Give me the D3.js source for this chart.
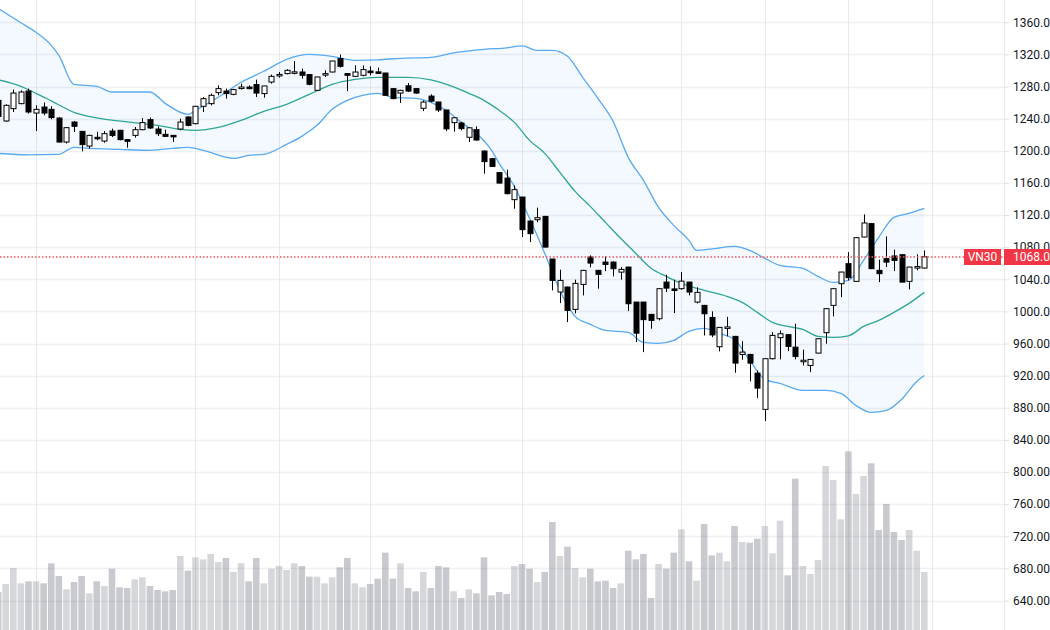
<!DOCTYPE html>
<html>
<head>
<meta charset="utf-8">
<script src="https://cdn.jsdelivr.net/npm/d3@7"></script>
<style>
  body { margin: 0; background: #fff; }
  svg { display: block; }
  text { font-family: Roboto, "DejaVu Sans", sans-serif; }
</style>
</head>
<body>
<div id="chart"></div>
<script>
// VN30 daily candles, oldest first (first one is cut by the left edge)
const opens = [1262.8,1237.1,1252.5,1258.7,1274.4,1247.0,1254.5,1251.6,1240.8,1210.9,
  1235.8,1224.2,1205.9,1216.8,1212.1,1224.6,1225.5,1213.9,1219.2,1226.3,
  1238.8,1227.1,1220.5,1219.2,1227.1,1242.1,1233.8,1255.4,1258.7,1272.4,
  1274.4,1270.3,1278.8,1279.4,1282.5,1271.2,1285.6,1294.5,1296.1,1297.7,
  1298.1,1294.9,1275.3,1294.9,1298.1,1314.8,1296.1,1292.7,1294.0,1299.3,
  1298.3,1296.8,1277.4,1271.9,1280.9,1277.4,1252.9,1268.1,1260.7,1250.8,
  1235.1,1234.6,1216.8,1226.3,1199.7,1190.2,1172.8,1166.0,1139.1,1142.4,
  1112.5,1114.2,1118.3,1065.2,1024.1,1030.3,1002.5,1033.6,1067.7,1051.1,
  1061.4,1061.4,1048.9,1055.2,1011.6,1011.6,996.3,990.9,1036.5,1028.0,
  1028.3,1036.5,1011.6,1007.5,992.5,956.0,980.1,968.9,946.4,946.4,
  923.1,878.0,941.1,967.3,971.0,955.5,938.7,932.7,948.1,973.5,
  1007.5,1034.5,1059.4,1037.4,1092.6,1109.3,1051.1,1065.7,1069.0,1070.6,
  1037.4,1054.8,1054.0];
const highs = [1267.8,1257.9,1276.2,1275.3,1277.4,1256.6,1260.0,1255.4,1241.7,1229.2,
  1237.1,1224.2,1219.9,1223.6,1224.6,1227.6,1226.1,1214.3,1229.6,1240.8,
  1241.3,1230.4,1226.3,1219.2,1240.0,1242.9,1256.0,1266.9,1271.2,1281.5,
  1277.4,1277.2,1283.6,1281.5,1288.6,1280.9,1294.9,1298.1,1301.5,1311.8,
  1302.3,1295.2,1292.1,1300.2,1312.0,1319.8,1296.5,1306.4,1306.4,1305.2,
  1303.6,1297.1,1277.8,1275.9,1284.4,1277.8,1262.8,1270.3,1261.0,1251.0,
  1242.1,1236.1,1229.2,1230.4,1200.6,1191.2,1173.1,1176.5,1157.0,1142.6,
  1113.3,1129.2,1119.0,1065.4,1051.9,1030.8,1039.5,1051.7,1069.8,1051.7,
  1068.5,1062.3,1055.2,1055.4,1011.8,1011.8,996.9,1028.6,1045.7,1039.5,
  1049.0,1036.8,1029.9,1008.1,1000.0,980.3,993.2,969.5,963.0,947.1,
  926.5,941.5,974.2,976.3,971.4,984.7,952.3,940.5,966.4,1003.8,
  1028.6,1049.2,1073.9,1092.2,1120.8,1109.6,1064.4,1093.4,1076.9,1071.0,
  1055.4,1071.0,1076.0];
const lows = [1235.4,1236.1,1248.3,1257.9,1246.3,1224.6,1244.2,1239.2,1210.5,1209.1,
  1223.4,1199.3,1202.7,1213.0,1210.1,1217.1,1213.0,1203.9,1216.4,1225.5,
  1227.1,1218.4,1217.1,1210.9,1225.5,1230.5,1232.9,1248.3,1256.6,1269.1,
  1265.0,1269.1,1276.2,1276.5,1267.0,1266.2,1283.6,1291.1,1295.2,1295.2,
  1289.9,1281.5,1274.7,1291.9,1297.7,1303.6,1274.4,1291.9,1292.7,1294.0,
  1296.1,1268.4,1264.1,1259.5,1273.2,1270.9,1249.5,1260.3,1248.3,1224.6,
  1223.8,1225.5,1210.9,1212.6,1171.5,1180.0,1159.4,1145.7,1127.9,1092.6,
  1086.3,1111.2,1079.7,1026.2,1010.3,986.7,997.5,1019.9,1054.8,1028.3,
  1050.2,1043.6,1039.5,1000.4,961.8,949.3,978.4,988.8,1024.1,997.9,
  1027.0,1019.9,1009.9,970.1,968.0,950.2,968.9,923.6,939.8,912.8,
  892.0,863.4,940.2,940.2,950.5,940.2,932.7,924.4,947.7,959.8,
  993.8,1017.8,1038.6,1036.8,1092.2,1052.7,1036.5,1055.2,1050.2,1036.1,
  1027.4,1051.1,1053.2];
const closes = [1242.9,1256.6,1271.9,1273.2,1248.3,1251.6,1247.0,1241.3,1210.9,1228.8,
  1230.5,1207.7,1219.2,1216.0,1221.3,1219.2,1213.9,1211.8,1226.3,1235.1,
  1228.4,1221.3,1218.0,1217.7,1235.8,1231.7,1255.4,1264.9,1269.1,1277.4,
  1271.2,1276.2,1279.4,1277.4,1271.9,1280.7,1292.7,1295.1,1300.2,1298.3,
  1294.0,1282.8,1291.9,1296.1,1311.8,1305.2,1294.0,1298.1,1301.1,1297.3,
  1297.7,1269.1,1265.0,1275.3,1274.4,1271.9,1260.7,1261.8,1250.8,1227.3,
  1241.1,1227.6,1228.6,1213.4,1186.5,1180.6,1159.8,1146.6,1151.6,1101.8,
  1096.8,1116.7,1080.1,1038.6,1038.6,1001.3,1034.9,1051.1,1060.2,1046.1,
  1058.5,1053.2,1052.3,1009.6,972.9,989.7,988.8,1028.3,1029.0,1026.8,
  1037.7,1024.1,1023.7,997.1,970.7,980.1,980.7,935.6,949.3,935.6,
  904.5,941.1,970.1,972.2,956.4,943.9,939.2,940.2,966.0,1003.4,
  1028.3,1049.0,1042.0,1091.8,1110.1,1053.2,1047.0,1061.4,1063.5,1036.5,
  1055.2,1055.8,1068.0];
// volume, millions of shares
const volumes = [57,69,93,70,73,73,70,100,81,61,
  72,81,55,73,66,92,64,63,76,79,
  66,60,58,60,111,89,109,106,114,102,
  108,87,100,73,108,70,92,96,90,100,
  96,80,80,70,79,94,108,70,64,69,
  77,116,77,100,63,58,87,63,96,94,
  58,48,61,55,109,52,57,54,96,99,
  92,72,87,162,111,125,93,79,92,73,
  74,63,70,119,106,114,48,99,92,116,
  151,103,74,159,112,116,103,156,132,131,
  137,156,115,164,82,227,96,84,105,246,
  225,166,268,204,231,250,150,189,147,135,
  150,119,87];

// Bollinger bands at some candles
const upperIdx = [0,3,5,7,8,10,13,15,20,22,25,26,29,32,35,38,41,44,47,50,53,57,60,64,67,69,71,73,75,77,
  79,81,83,85,87,89,91,92,94,97,99,101,103,106,108,110,112,114,116,118,120,122];
const upperVal = [1377.4,1359.4,1347.5,1331.3,1318.9,1282.8,1280.3,1273.2,1273.2,1259.1,
  1245.4,1250.4,1266.6,1285.3,1299.0,1313.9,1320.1,1317.6,1312.7,1313.3,
  1315.2,1316.4,1322.0,1326.4,1328.2,1330.7,1325.1,1325.1,1317.6,1291.5,
  1265.3,1236.7,1191.8,1163.2,1129.5,1107.1,1088.4,1076.0,1077.9,1081.0,
  1076.0,1066.0,1057.3,1053.6,1043.6,1036.1,1038.6,1063.5,1092.2,1117.1,1122.1,1128.3];
const midIdx = [0,3,5,7,10,13,17,21,24,26,29,32,35,38,41,44,47,50,54,57,60,62,64,66,68,70,72,74,76,78,
  80,82,84,86,88,90,93,96,98,100,102,104,106,108,110,112,114,116,118,120,122];
const midVal = [1288.4,1280.3,1271.6,1262.2,1247.9,1241.0,1236.1,1231.7,1226.7,1225.5,
  1229.2,1237.9,1249.1,1257.9,1270.3,1282.8,1289.0,1291.5,1291.5,1288.4,
  1279.7,1271.6,1262.8,1250.4,1235.4,1213.0,1196.8,1173.1,1149.5,1130.8,
  1110.9,1091.0,1072.2,1053.6,1043.6,1034.9,1026.2,1018.7,1011.2,998.8,
  986.3,981.3,977.6,968.9,967.6,969.5,981.3,988.8,998.8,1010.0,1023.7];
const lowerIdx = [0,4,8,10,12,16,20,23,25,27,31,33,35,38,40,42,44,46,48,50,52,55,57,59,61,63,65,66,68,70,
  72,74,76,78,80,83,85,87,89,91,93,95,97,99,101,103,106,109,111,113,115,117,119,121,122];
const lowerVal = [1196.8,1195.0,1195.6,1204.3,1203.0,1201.8,1200.6,1203.0,1204.3,1200.6,
  1190.6,1194.3,1195.6,1208.0,1218.0,1231.7,1251.6,1262.8,1269.1,1271.6,
  1266.6,1265.3,1260.3,1250.4,1235.4,1221.7,1200.6,1184.4,1155.7,1115.9,
  1072.2,1026.2,993.8,983.8,976.3,973.8,961.4,960.1,963.9,975.1,
  978.8,972.6,965.1,938.9,915.3,910.3,901.6,901.6,897.9,882.9,
  874.2,876.7,890.4,912.8,920.3];

// candles where a new month starts (vertical grid)
const monthStarts = [5,26,37,49,69,90,101,112,123];
const priceTicks = d3.range(640, 1361, 40);
const symbol = "VN30";

const W = 1050, H = 630, plotRight = 1004;

const svg = d3.select("#chart").append("svg")
  .attr("width", W).attr("height", H);

svg.append("defs").append("clipPath").attr("id", "plot")
  .append("rect").attr("x", 0).attr("y", 0).attr("width", plotRight).attr("height", H);

const x = d3.scaleLinear().domain([0, closes.length - 1]).range([-1.9, 924.3]);
const y = d3.scaleLinear().domain([640, 1360]).range([600.5, 22.3]);
const yVol = d3.scaleLinear().domain([0, 300]).range([H, 430]);

// grid
const grid = svg.append("g");
grid.selectAll("line.h").data(priceTicks).enter().append("line")
  .attr("x1", 0).attr("x2", plotRight)
  .attr("y1", d => Math.round(y(d)) + 0.5).attr("y2", d => Math.round(y(d)) + 0.5)
  .attr("stroke", "#eff0f3").attr("stroke-width", 1.3);
grid.selectAll("line.v").data(monthStarts).enter().append("line")
  .attr("x1", d => Math.round(x(d)) + 0.5).attr("x2", d => Math.round(x(d)) + 0.5)
  .attr("y1", 0).attr("y2", H)
  .attr("stroke", "#e8e9ed").attr("stroke-width", 1);

const plot = svg.append("g").attr("clip-path", "url(#plot)");

const idx = d3.range(closes.length);

// volume
plot.append("g").selectAll("rect").data(idx).enter().append("rect")
  .attr("x", i => x(i) - 3.3)
  .attr("width", 6.6)
  .attr("y", i => yVol(volumes[i]))
  .attr("height", i => H - yVol(volumes[i]))
  .attr("fill", "#787b86")
  .attr("fill-opacity", i => closes[i] >= opens[i] ? 0.3 : 0.4);

// bands
const pts = (ix, vals) => ix.map((d, k) => [x(d), y(vals[k])]);
const line = d3.line().curve(d3.curveMonotoneX);
const upPts = pts(upperIdx, upperVal), loPts = pts(lowerIdx, lowerVal);
const fillPath = line(upPts) + "L" + line(loPts.slice().reverse()).slice(1) + "Z";
plot.append("path").attr("d", fillPath).attr("fill", "#2196f3").attr("fill-opacity", 0.055);
plot.append("path").attr("d", line(upPts)).attr("fill", "none").attr("stroke", "#58a9f2").attr("stroke-width", 1.3);
plot.append("path").attr("d", line(loPts)).attr("fill", "none").attr("stroke", "#58a9f2").attr("stroke-width", 1.3);
plot.append("path").attr("d", line(pts(midIdx, midVal))).attr("fill", "none").attr("stroke", "#2ea597").attr("stroke-width", 1.3);

// candles
const cg = plot.append("g").selectAll("g").data(idx).enter().append("g");
cg.append("line")
  .attr("x1", i => Math.round(x(i)) + 0.5).attr("x2", i => Math.round(x(i)) + 0.5)
  .attr("y1", i => y(highs[i])).attr("y2", i => y(lows[i]))
  .attr("stroke", "#000").attr("stroke-width", 1);
cg.append("rect")
  .attr("x", i => Math.round(x(i)) - 2)
  .attr("width", 5)
  .attr("y", i => y(Math.max(opens[i], closes[i])))
  .attr("height", i => Math.max(1.5, Math.abs(y(opens[i]) - y(closes[i]))))
  .attr("fill", i => closes[i] >= opens[i] ? "#fff" : "#000")
  .attr("stroke", "#000").attr("stroke-width", 1);

// last price line
const last = closes[closes.length - 1];
const ty = Math.round(y(last));
svg.append("line")
  .attr("x1", 0).attr("x2", plotRight)
  .attr("y1", ty).attr("y2", ty)
  .attr("stroke", "#f7525f").attr("stroke-width", 1.4).attr("stroke-dasharray", "1.5,2");

// price scale
svg.append("line").attr("x1", plotRight + 0.5).attr("x2", plotRight + 0.5)
  .attr("y1", 0).attr("y2", H).attr("stroke", "#e8e9ed");
const axis = svg.append("g").attr("transform", `translate(${plotRight},0)`)
  .call(d3.axisRight(y).tickValues(priceTicks).tickFormat(d3.format(".2f")).tickSize(5).tickPadding(4));
axis.select(".domain").remove();
axis.selectAll(".tick line").attr("stroke", "#e0e1e5");
axis.selectAll(".tick text").attr("fill", "#131722").attr("font-size", 12);

// tags
svg.append("rect").attr("x", 964).attr("y", ty - 8).attr("width", 37).attr("height", 16).attr("fill", "#f23645");
svg.append("text").attr("x", 982.5).attr("y", ty + 4).attr("text-anchor", "middle")
  .attr("fill", "#fff").attr("font-size", 12).text(symbol);
svg.append("rect").attr("x", plotRight).attr("y", ty - 8).attr("width", W - plotRight).attr("height", 16).attr("fill", "#f23645");
svg.append("text").attr("x", plotRight + 9).attr("y", ty + 4)
  .attr("fill", "#fff").attr("font-size", 12).text(d3.format(".2f")(last));
</script>
</body>
</html>
